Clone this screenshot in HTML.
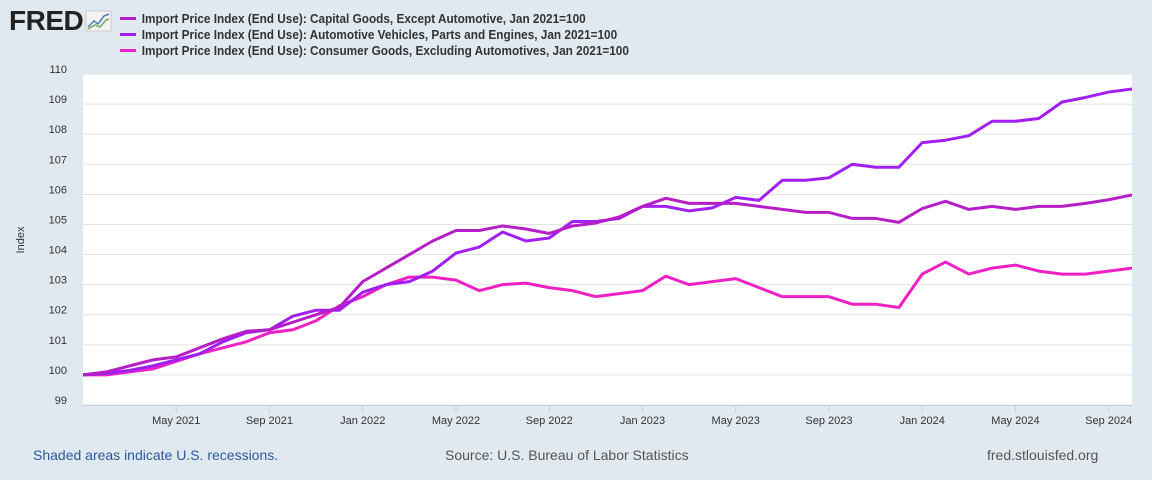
<!DOCTYPE html>
<html><head><meta charset="utf-8">
<style>
body{margin:0;width:1152px;height:480px;background:#e1e9f0;font-family:"Liberation Sans",Arial,sans-serif;overflow:hidden;position:relative}
.logo{position:absolute;left:9px;top:5px;font-weight:bold;font-size:28px;letter-spacing:-0.5px;color:#222}
.leg{position:absolute;left:120px;font-size:12.5px;color:#333;font-weight:bold;transform:scaleX(0.943);transform-origin:left}
.leg i{display:inline-block;width:17px;height:3px;vertical-align:middle;margin-right:6px;margin-top:-2px}
.foot{position:absolute;top:447px;font-size:14px}
</style></head><body>
<div class="logo">FRED<svg width="28" height="22" style="vertical-align:-2px;margin-left:2px"><rect x="1" y="1" width="25" height="20" fill="#f3f3f3" stroke="#ccc"/><polyline points="3,17 9,11 13,14 19,6 24,4" fill="none" stroke="#4a7fb0" stroke-width="1.5"/><polyline points="3,19 10,15 15,17 21,10 24,9" fill="none" stroke="#7aa860" stroke-width="1.5"/></svg></div>
<div class="leg" style="top:12px"><i style="background:#b51fc5"></i>Import Price Index (End Use): Capital Goods, Except Automotive, Jan 2021=100</div>
<div class="leg" style="top:28px"><i style="background:#a21ff2"></i>Import Price Index (End Use): Automotive Vehicles, Parts and Engines, Jan 2021=100</div>
<div class="leg" style="top:44px"><i style="background:#ee22c4"></i>Import Price Index (End Use): Consumer Goods, Excluding Automotives, Jan 2021=100</div>
<svg id="chart" width="1152" height="480" style="position:absolute;left:0;top:0"></svg>
<div class="foot" style="left:33px;color:#2b5a9a">Shaded areas indicate U.S. recessions.</div>
<div class="foot" style="left:445px;color:#555">Source: U.S. Bureau of Labor Statistics</div>
<div class="foot" style="left:987px;color:#555">fred.stlouisfed.org</div>
<script>
const capital=[100,100.1,100.3,100.5,100.6,100.9,101.2,101.45,101.5,101.75,102.0,102.25,103.1,103.55,104.0,104.45,104.8,104.8,104.95,104.85,104.7,104.95,105.05,105.25,105.6,105.87,105.7,105.7,105.7,105.6,105.5,105.4,105.4,105.2,105.2,105.07,105.53,105.77,105.5,105.6,105.5,105.6,105.6,105.7,105.82,105.98];
const auto=[100,100.05,100.15,100.3,100.5,100.7,101.1,101.4,101.5,101.95,102.15,102.15,102.75,103.0,103.1,103.45,104.05,104.25,104.75,104.45,104.55,105.1,105.1,105.2,105.6,105.6,105.45,105.55,105.9,105.8,106.47,106.47,106.55,107.0,106.9,106.9,107.72,107.8,107.95,108.43,108.43,108.52,109.07,109.22,109.4,109.5];
const consumer=[100,100.0,100.1,100.2,100.45,100.7,100.9,101.1,101.4,101.5,101.8,102.3,102.6,103.0,103.25,103.25,103.15,102.8,103.0,103.05,102.9,102.8,102.6,102.7,102.8,103.28,103.0,103.1,103.2,102.9,102.6,102.6,102.6,102.35,102.35,102.24,103.35,103.75,103.35,103.55,103.65,103.45,103.35,103.35,103.45,103.55];
const yTicks=[99,100,101,102,103,104,105,106,107,108,109,110];
const xTickIdx=[4,8,12,16,20,24,28,32,36,40,44];
const xTickLabels=["May 2021","Sep 2021","Jan 2022","May 2022","Sep 2022","Jan 2023","May 2023","Sep 2023","Jan 2024","May 2024","Sep 2024"];
const L=83,R=1132,T=74,B=405,yMin=99,yMax=110,nMonths=45;
const xs=i=>L+(R-L)*i/nMonths;
const ys=v=>B-(B-T)*(v-yMin)/(yMax-yMin);
const svg=document.getElementById('chart');const NS='http://www.w3.org/2000/svg';
function mk(t,a){const e=document.createElementNS(NS,t);for(const k in a)e.setAttribute(k,a[k]);svg.appendChild(e);return e;}
const bg=mk('rect',{x:L,y:T,width:R-L,height:B-T,fill:'#fff'});


yTicks.forEach(v=>{
 const g=mk('line',{x1:L,x2:R,y1:ys(v),y2:ys(v),stroke:'#e3e3e3','stroke-width':1});
 
 
 const t=mk('text',{x:67,y:ys(v)-1,'text-anchor':'end','font-size':11,fill:'#333'});t.textContent=v;
 
 
});
const ax=mk('line',{x1:L,x2:R,y1:B+0.5,y2:B+0.5,stroke:'#c8d2dc'});


xTickIdx.forEach((m,i)=>{
 const tk=mk('line',{x1:xs(m),x2:xs(m),y1:B,y2:B+8,stroke:'#c8d2dc'});
 
 
 const t=mk('text',{x:xs(m),y:B+19,'text-anchor':'middle','font-size':11,fill:'#333'});t.textContent=xTickLabels[i];
 
 
});
const yt=mk('text',{x:24,y:240,'text-anchor':'middle','font-size':11,fill:'#333',transform:'rotate(-90 24 240)'});yt.textContent='Index';


function line(d,c,n){const p=mk('polyline',{points:d.map((v,i)=>xs(i)+','+ys(v)).join(' '),fill:'none',stroke:c,'stroke-width':3,'stroke-linejoin':'round'});
 
 }
line(consumer,'#ee22c4','series-consumer-goods');
line(auto,'#a21ff2','series-automotive');
line(capital,'#b51fc5','series-capital-goods');
</script>
</body></html>
